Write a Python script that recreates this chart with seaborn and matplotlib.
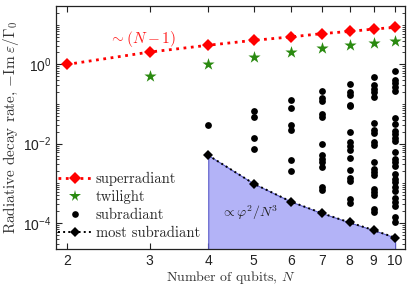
import matplotlib
matplotlib.use("Agg")
import pandas as pd
import matplotlib.pyplot as plt
import seaborn as sns
from matplotlib.lines import Line2D
from matplotlib.ticker import FixedLocator, FixedFormatter, LogLocator, NullFormatter, NullLocator

# superradiant branch
N_SUPER = [2, 3, 4, 5, 6, 7, 8, 9, 10]
RATE_SUPER = [1.0, 2.05, 3.05, 4.05, 4.95, 6.0, 6.8, 7.8, 8.6]

# twilight states
N_TWI = [3, 4, 5, 6, 7, 8, 9, 10]
RATE_TWI = [0.525, 1.04, 1.57, 2.06, 2.55, 3.04, 3.48, 3.92]

# most subradiant
N_MOST = [4, 5, 6, 7, 8, 9, 10]
RATE_MOST = [5.1e-3, 9.8e-4, 3.46e-4, 1.75e-4, 1.03e-4, 6.6e-5, 4.25e-5]

# remaining subradiant states, per N
SUB_4 = [0.0297]
SUB_5 = [0.0676, 0.0483, 0.0141, 0.00716]
SUB_6 = [0.1235, 0.0791, 0.0297, 0.0222, 0.00383, 0.00207]
SUB_7 = [0.209, 0.142, 0.118, 0.0557, 0.0483, 0.0096, 0.00513, 0.00418,
         0.0034, 0.00258, 0.0008, 0.00068]
SUB_8 = [0.329, 0.202, 0.1655, 0.096, 0.0869, 0.0194, 0.01117, 0.00869,
         0.00687, 0.00423, 0.00213, 0.001355, 0.001137, 0.000406, 0.000313]
SUB_9 = [0.486, 0.297, 0.245, 0.202, 0.1507, 0.0329, 0.0222, 0.0183,
         0.01117, 0.0092, 0.00346, 0.00235, 0.00193, 0.00159, 0.00073,
         0.000597, 0.000522, 0.000226, 0.000185]
SUB_10 = [0.676, 0.408, 0.338, 0.275, 0.218, 0.0448, 0.0315, 0.0215,
          0.01754, 0.01429, 0.0120, 0.00611, 0.00418, 0.0034, 0.00269,
          0.00173, 0.001256, 0.001054, 0.000787, 0.000622, 0.000438,
          0.000336, 0.000274, 0.0001396, 0.0001043]

X_TICKS = [2, 3, 4, 5, 6, 7, 8, 9, 10]

sns.set_theme(style="ticks")
plt.rcParams["font.family"] = ["Liberation Sans", "DejaVu Sans"]
plt.rcParams["mathtext.fontset"] = "cm"
SERIF = ["cmr10", "DejaVu Serif"]

sub_rows = []
for n, vals in zip([4, 5, 6, 7, 8, 9, 10],
                   [SUB_4, SUB_5, SUB_6, SUB_7, SUB_8, SUB_9, SUB_10]):
    for v in vals:
        sub_rows.append({"N": n, "rate": v})
sub = pd.DataFrame(sub_rows)
sup = pd.DataFrame({"N": N_SUPER, "rate": RATE_SUPER})
twi = pd.DataFrame({"N": N_TWI, "rate": RATE_TWI})
most = pd.DataFrame({"N": N_MOST, "rate": RATE_MOST})

fig = plt.figure(figsize=(4.15, 2.94), dpi=100)
ax = fig.add_axes([0.135, 0.153, 0.841, 0.827])

ax.set_xscale("log")
ax.set_yscale("log")

# shaded region under most subradiant
ax.fill_between(most["N"], most["rate"], 1e-7, facecolor="#b3b3f7",
                edgecolor="#5a5ac8", linewidth=0.8, zorder=1)

sns.lineplot(data=sup, x="N", y="rate", ax=ax, color="#ff0000", linestyle=":",
             linewidth=2.0, marker="D", markersize=6, markeredgewidth=0,
             zorder=4)
sns.scatterplot(data=twi, x="N", y="rate", ax=ax, color="#2a8a10", marker="*",
                s=85, linewidth=0, zorder=4)
sns.scatterplot(data=sub, x="N", y="rate", ax=ax, color="black", marker="o",
                s=24, linewidth=0, zorder=4)
sns.lineplot(data=most, x="N", y="rate", ax=ax, color="black", linestyle=":",
             linewidth=1.4, marker="D", markersize=5.5, markeredgewidth=0,
             zorder=4)

ax.set_xlim(1.896, 10.5)
ax.set_ylim(2.2e-5, 30)

ax.xaxis.set_major_locator(FixedLocator(X_TICKS))
ax.xaxis.set_major_formatter(FixedFormatter([str(t) for t in X_TICKS]))
ax.xaxis.set_minor_locator(NullLocator())
ax.yaxis.set_major_locator(FixedLocator([1e-4, 1e-2, 1e0]))
ax.yaxis.set_minor_locator(LogLocator(base=10, subs=range(1, 10), numticks=20))
ax.yaxis.set_minor_formatter(NullFormatter())
ax.tick_params(which="both", direction="in", top=True, right=True,
               labelsize=10, colors="#222222", labelcolor="#222222")
ax.tick_params(which="major", length=4, width=0.8)
ax.tick_params(which="minor", length=2.2, width=0.6)
for s in ax.spines.values():
    s.set_linewidth(0.9)
    s.set_color("#222222")

ax.set_xlabel("Number of qubits, $N$", family=SERIF, fontsize=10, labelpad=1,
              color="#333333")
ax.set_ylabel(r"Radiative decay rate, $-\mathrm{Im}\;\varepsilon/\Gamma_0$",
              family=SERIF, fontsize=11, labelpad=1, color="#333333")

ax.text(2.9, 4.3, r"$\sim(N-1)$", color="#ff2020", fontsize=11,
        ha="center", va="center")
ax.text(4.9, 1.8e-4, r"$\propto\varphi^2/N^3$", color="#222222", fontsize=10,
        ha="center", va="center", zorder=5)

handles = [
    Line2D([], [], color="#ff0000", linestyle=":", linewidth=2.0, marker="D",
           markersize=6, markeredgewidth=0),
    Line2D([], [], color="#2a8a10", linestyle="none", marker="*",
           markersize=8.5, markeredgewidth=0),
    Line2D([], [], color="black", linestyle="none", marker="o",
           markersize=4.8, markeredgewidth=0),
    Line2D([], [], color="black", linestyle=":", linewidth=1.4, marker="D",
           markersize=5.5, markeredgewidth=0),
]
labels = ["superradiant", "twilight", "subradiant", "most subradiant"]
ax.legend(handles, labels, loc="lower left", frameon=False,
          prop={"family": SERIF, "size": 10.5}, handlelength=2.3,
          handletextpad=0.3, labelspacing=0.3, borderaxespad=0.2,
          bbox_to_anchor=(-0.02, 0.0))

fig.savefig("out.png", dpi=100)
